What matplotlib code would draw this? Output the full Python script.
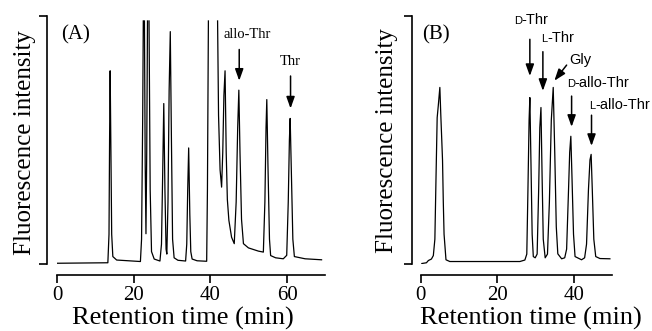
import numpy as np
import matplotlib
matplotlib.use("Agg")
import matplotlib.pyplot as plt

plt.rcParams['font.family'] = ['Liberation Serif', 'DejaVu Serif']

nan = np.nan

# panel A trace (time in min, signal in % of full scale); nan = off-scale break
time_a = [0, 13.2, 13.5, 13.65, 13.8, 14.0, 14.2, 14.5, 15.5, 21.7,
          22.0, 22.3, 22.45, nan, 22.75, 22.95, 23.15, 23.35, 23.55, nan,
          23.95, 24.25, 24.6, 25.3, 26.8,
          27.2, 27.5, 27.8, 28.1, 28.4, 28.6, 28.9, 29.2, 29.5, 29.8, 30.1, 30.5, 31.5,
          33.5, 33.8, 34.05, 34.3, 34.6, 34.85, 35.2, 36.5,
          39.0, 39.2, 39.45, nan, 41.85, 42.1, 42.5, 42.9,
          43.2, 43.5, 43.8, 44.1, 44.4, 44.8, 45.5, 46.2,
          46.7, 47.1, 47.4, 47.7, 48.1, 48.6, 49.9, 52.5, 53.8,
          54.2, 54.5, 54.7, 55.0, 55.4, 55.7, 57.0, 59.0,
          59.9, 60.3, 60.6, 60.8, 61.1, 61.5, 61.9, 64.7, 69.0]
signal_a = [0.3, 0.5, 12, 50, 77.9, 45, 12, 3, 1.6, 1.0,
            10, 60, 98, nan, 98, 40, 12.2, 45, 98, nan,
            98, 30, 5, 2, 1.2,
            8, 35, 64.7, 30, 6, 4, 25, 70, 93.7, 50, 10, 2.5, 1.5,
            1.2, 8, 30, 46.8, 20, 5, 2, 1.3,
            1.1, 30, 98, nan, 98, 60, 38, 31,
            45, 68, 77.9, 45, 26, 17.6, 10.8, 8.2,
            25, 55, 70.1, 45, 18, 8.2, 6.5, 5.2, 4.8,
            25, 55, 66.3, 40, 10, 3.4, 2.5, 2.1,
            3.5, 25, 50, 58.7, 38, 10, 3.0, 2.1, 1.7]

# panel B trace
time_b = [0.3, 1.5, 2.0, 2.8, 3.3, 3.7, 4.0, 4.3, 4.6, 5.0,
          5.25, 5.5, 5.7, 5.9, 6.1, 6.6, 7.6, 25.9, 27.2, 27.7,
          28.0, 28.3, 28.5, 28.8, 29.1, 29.4, 29.9, 30.4, 30.8, 31.1,
          31.4, 31.7, 32.0, 32.5, 33.1, 33.6, 34.1, 34.6, 35.0, 35.4,
          35.8, 36.8, 37.6, 38.1, 38.6, 38.9, 39.2, 39.5, 39.9, 40.3,
          42.0, 42.8, 43.3, 43.8, 44.2, 44.5, 44.8, 45.2, 45.7, 46.8, 49.4]
signal_b = [0.2, 0.5, 1.4, 2.0, 3.4, 10, 35, 59, 64, 71.2,
            60, 50, 41.8, 25, 12, 1.7, 1.0, 1.0, 1.6, 4,
            30, 58, 67.1, 40, 12, 3, 2.5, 4, 30, 55,
            63.1, 35, 10, 2.5, 4, 25, 58, 71.2, 45, 15,
            4.1, 2.1, 2.5, 6, 30, 45, 51.5, 35, 12, 3,
            1.7, 2.5, 8, 30, 42, 44.2, 30, 10, 3, 2.2, 2.1]

# arrows: x, tail y, head y
arrows_a = [(47.5, 86.5, 73.9), (60.9, 75.8, 62.7)]
labels_a = [("allo-Thr", 49.5, 91.0), ("Thr", 60.8, 80.2)]

arrows_b = [(28.5, 90.6, 75.8), (31.9, 85.6, 69.8), (39.4, 67.7, 55.3), (44.6, 60.0, 47.6)]
gly_arrow = ((38.1, 80.2), (34.9, 73.9))
# small-cap prefix, rest, junction x, baseline y
labels_b = [("D", "-Thr", 26.4, 96.6), ("L", "-Thr", 33.0, 89.6),
            ("D", "-allo-Thr", 40.2, 71.2), ("L", "-allo-Thr", 45.5, 62.7)]

W, H = 652, 331
fig = plt.figure(figsize=(6.52, 3.31), dpi=100)
axA = fig.add_axes([57.3 / W, 67 / H, 268.1 / W, 248 / H])
axB = fig.add_axes([420.7 / W, 67 / H, 191.5 / W, 248 / H])


def style(ax, xmax, xticks, left_out):
    ax.set_xlim(0, xmax)
    ax.set_ylim(0, 100)
    for s in ['top', 'right']:
        ax.spines[s].set_visible(False)
    ax.spines['left'].set_position(('outward', left_out))
    ax.spines['bottom'].set_position(('outward', 8.1))
    for s in ['left', 'bottom']:
        ax.spines[s].set_linewidth(1.2)
    ax.set_yticks([0, 100])
    ax.set_yticklabels([])
    ax.set_xticks(xticks)
    ax.tick_params(axis='y', direction='out', length=5.8, width=1.2)
    ax.tick_params(axis='x', direction='out', length=5.8, width=1.2, labelsize=15, pad=2)
    ax.patch.set_visible(False)


style(axA, 70, [0, 20, 40, 60], 7.6)
style(axB, 50, [0, 20, 40], 6.5)

axA.plot(time_a, signal_a, color='k', lw=0.9)
axB.plot(time_b, signal_b, color='k', lw=0.9)

aprops = dict(arrowstyle='-|>,head_length=0.7,head_width=0.25', color='k',
              lw=1.1, mutation_scale=10, shrinkA=0, shrinkB=0)

for x, y0, y1 in arrows_a:
    axA.annotate('', xy=(x, y1), xytext=(x, y0), arrowprops=aprops)
for txt, x, y in labels_a:
    axA.text(x, y, txt, ha='center', va='baseline', fontsize=10.5)

for x, y0, y1 in arrows_b:
    axB.annotate('', xy=(x, y1), xytext=(x, y0), arrowprops=aprops)
axB.annotate('', xy=gly_arrow[1], xytext=gly_arrow[0], arrowprops=aprops)
sans = ['Liberation Sans', 'DejaVu Sans']
axB.text(41.8, 80.5, "Gly", ha='center', va='baseline', fontsize=10.5, family=sans)
for cap, rest, x, y in labels_b:
    axB.text(x, y, cap, ha='right', va='baseline', fontsize=8, family=sans, clip_on=False)
    axB.text(x, y, rest, ha='left', va='baseline', fontsize=10.5, family=sans, clip_on=False)

axA.text(1.1, 90.5, "(A)", ha='left', va='baseline', fontsize=15)
axB.text(0.3, 90.5, "(B)", ha='left', va='baseline', fontsize=15)

fig.text(182.5 / W, 1 - 318.3 / H, "Retention time (min)", ha='center', va='center', fontsize=19)
fig.text(530.5 / W, 1 - 318.3 / H, "Retention time (min)", ha='center', va='center', fontsize=19)
fig.text(25 / W, 1 - 143 / H, "Fluorescence intensity", ha='center', va='center',
         rotation=90, fontsize=18)
fig.text(387 / W, 1 - 141 / H, "Fluorescence intensity", ha='center', va='center',
         rotation=90, fontsize=18)

fig.savefig('out.png', dpi=100)
